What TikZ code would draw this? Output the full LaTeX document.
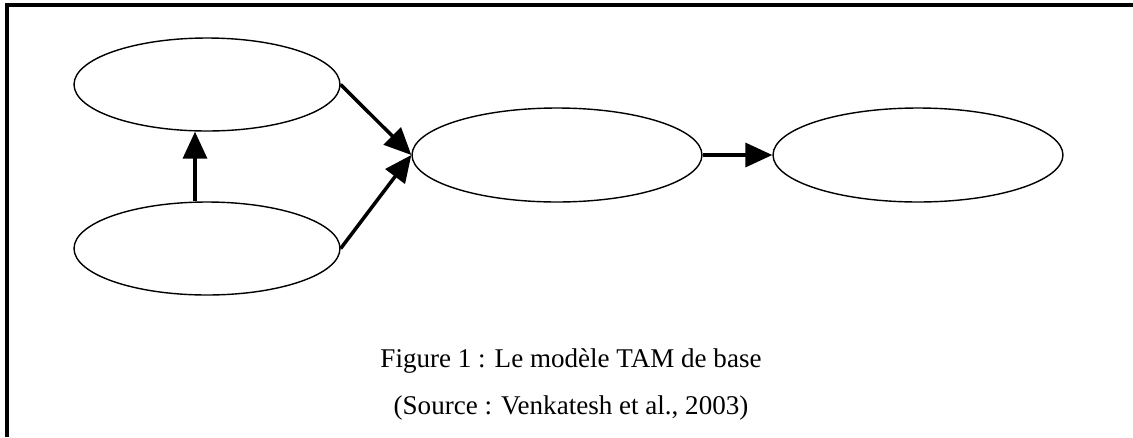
\documentclass[tikz,border=0pt]{standalone}
\usepackage{fontspec}
\setmainfont{Liberation Serif}
\usetikzlibrary{shapes.geometric,arrows.meta}
\begin{document}
\begin{tikzpicture}[x=0.02cm,y=-0.02cm,
    construct/.style={draw,ellipse,line width=0.8pt,inner sep=0pt},
    link/.style={line width=2pt,-{Triangle[length=5.4mm,width=4.8mm]}}]
    \fontsize{15.4}{18}\selectfont
    \useasboundingbox (0,0) rectangle (1133,437);
    \draw [line width=2pt](7,437) -- (7,5) -- (1133,5);
    \node [construct,minimum width=5.32cm,minimum height=1.86cm] (pu) at (207,84.5) {};
    \node [construct,minimum width=5.32cm,minimum height=1.86cm] (peou) at (207,248.5) {};
    \node [construct,minimum width=5.8cm,minimum height=1.88cm] (bi) at (557,155) {};
    \node [construct,minimum width=5.8cm,minimum height=1.88cm] (use) at (918,155) {};
    \coordinate (vx) at (195,0);
    \draw [link] (peou.north -| vx) -- (pu.south -| vx);
    \draw [link] (pu.east) -- (bi.west);
    \draw [link] (peou.east) -- (bi.west);
    \draw [link] (bi.east) -- (use.west);
    \node [anchor=base] (title) at (571,367) {Figure 1 : Le modèle TAM de base};
    \node [anchor=base] (source) at (571,414) {(Source : Venkatesh et al., 2003)};
\end{tikzpicture}
\end{document}
